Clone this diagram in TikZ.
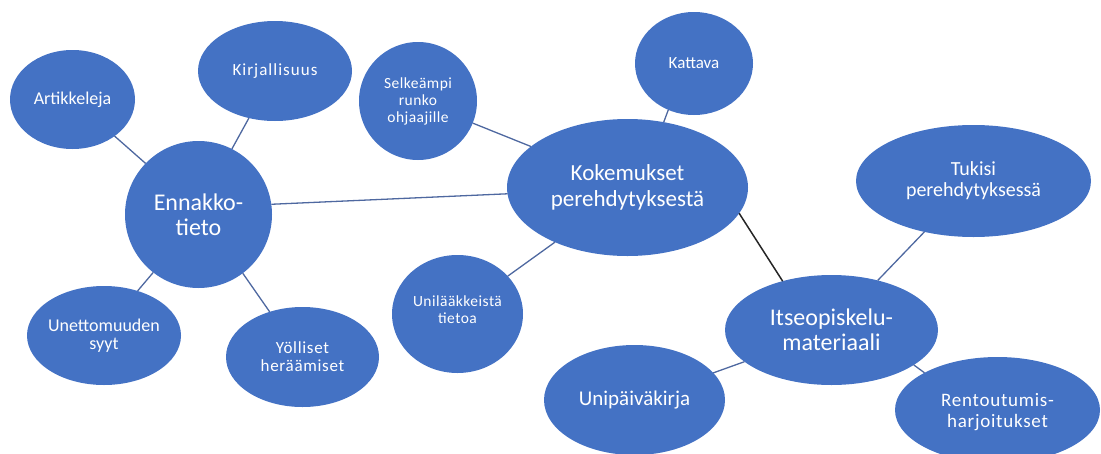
\documentclass[tikz,border=0pt]{standalone}
\usepackage{fontspec}
\setmainfont{Carlito}
\usetikzlibrary{shapes.geometric}
\definecolor{bub}{HTML}{4472C4}
\definecolor{lnk}{RGB}{78,104,160}
\begin{document}
\begin{tikzpicture}[x=1pt,y=-1pt,
  bubble/.style={ellipse, fill=bub, draw=none, inner sep=0pt, outer sep=0pt},
  lbl/.style={text=white, align=center, inner sep=0pt},
  link/.style={draw=lnk, line width=1.3pt},
  dark/.style={draw=black!85, line width=1.5pt}]
\useasboundingbox (0,0) rectangle (1101,453);
\clip (0,0) rectangle (1101,453);
% bubbles
\node[bubble, minimum width=125pt, minimum height=99pt]  (art) at (72.5,99.5) {};
\node[bubble, minimum width=154pt, minimum height=100pt] (kir) at (275,71) {};
\node[bubble, minimum width=147pt, minimum height=147pt] (enn) at (198.5,214.5) {};
\node[bubble, minimum width=154pt, minimum height=99pt]  (une) at (104,335.5) {};
\node[bubble, minimum width=153pt, minimum height=100pt] (yol) at (302.5,357) {};
\node[bubble, minimum width=118pt, minimum height=118pt] (sel) at (418,101) {};
\node[bubble, minimum width=131pt, minimum height=118pt] (uni) at (457.5,314) {};
\node[bubble, minimum width=118pt, minimum height=103pt] (kat) at (694,63.5) {};
\node[bubble, minimum width=241pt, minimum height=137pt] (kok) at (627.5,187.5) {};
\node[bubble, minimum width=181pt, minimum height=110pt] (upk) at (634.5,400) {};
\node[bubble, minimum width=235pt, minimum height=112pt] (tuk) at (973.5,181) {};
\node[bubble, minimum width=213pt, minimum height=110pt] (its) at (831.5,330) {};
\node[bubble, minimum width=205pt, minimum height=106pt] (ren) at (997.5,410) {};
% connectors
\draw[link] (art.-41.4) -- (enn.136.6);
\draw[link] (kir.-119.4) -- (enn.63.3);
\draw[link] (enn.8.9) -- (kok.183.1);
\draw[link] (une.53) -- (enn.-128.5);
\draw[link] (yol.126.3) -- (enn.-53.7);
\draw[link] (sel.-22) -- (kok.157.4);
\draw[link] (kat.-119.1) -- (kok.61.9);
\draw[link] (uni.37.7) -- (kok.-143.7);
\draw[dark] (kok.-13.4) -- (its.135.3);
\draw[link] (tuk.-134.2) -- (its.47);
\draw[link] (upk.19.6) -- (its.-160.3);
\draw[link] (ren.153.3) -- (its.-23.8);
% labels
\node[lbl, font=\fontsize{18}{19}\selectfont] (art-t) at (art) {Artikkeleja};
\node[lbl, font=\fontsize{17}{18}\selectfont\addfontfeature{LetterSpace=6}] (kir-t) at (kir) {Kirjallisuus};
\node[lbl, font=\fontsize{24}{25}\selectfont] (enn-t) at (enn) {Ennakko-\\tieto};
\node[lbl, font=\fontsize{18}{18}\selectfont] (une-t) at (une) {Unettomuuden\\syyt};
\node[lbl, font=\fontsize{17}{18}\selectfont\addfontfeature{LetterSpace=4}] (yol-t) at (yol) {Yölliset\\heräämiset};
\node[lbl, font=\fontsize{15.5}{17}\selectfont\addfontfeature{LetterSpace=3}] (sel-t) at (sel) {Selkeämpi\\runko\\ohjaajille};
\node[lbl, font=\fontsize{15.5}{17}\selectfont\addfontfeature{LetterSpace=3}] (uni-t) at ([yshift=4pt]uni) {Unilääkkeistä\\tietoa};
\node[lbl, font=\fontsize{17}{18}\selectfont] (kat-t) at (kat) {Kattava};
\node[lbl, font=\fontsize{23}{26}\selectfont] (kok-t) at (kok) {Kokemukset\\perehdytyksestä};
\node[lbl, font=\fontsize{21}{22}\selectfont] (upk-t) at (upk) {Unipäiväkirja};
\node[lbl, font=\fontsize{20}{21}\selectfont] (tuk-t) at (tuk) {Tukisi\\perehdytyksessä};
\node[lbl, font=\fontsize{24}{25.5}\selectfont] (its-t) at (its) {Itseopiskelu-\\materiaali};
\node[lbl, font=\fontsize{19}{21}\selectfont\addfontfeature{LetterSpace=4}] (ren-t) at ([yshift=-2pt]ren) {Rentoutumis-\\harjoitukset};
\end{tikzpicture}
\end{document}
